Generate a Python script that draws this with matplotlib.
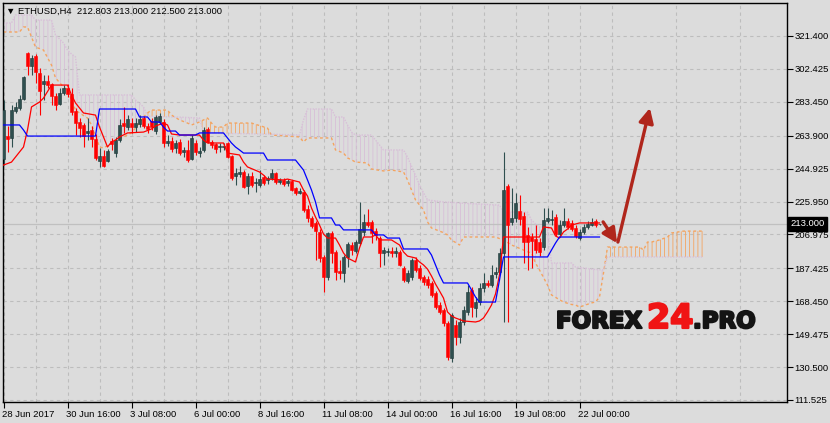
import numpy as np
import matplotlib.pyplot as plt
import matplotlib.patheffects as pe
from matplotlib.transforms import blended_transform_factory, ScaledTranslation

# ETHUSD H4 candles, 28 Jun - 22 Jul 2017
opens = [250.5, 263.7, 262.6, 278.1, 279.9, 285.1, 311.6, 304.1, 309.9, 300.0,
         293.7, 295.4, 293.7, 286.8, 282.2, 288.5, 291.4, 287.9, 278.1, 271.8,
         270.1, 265.5, 267.2, 262.0, 249.3, 252.2, 249.3, 260.9, 253.9, 261.4,
         271.2, 268.9, 271.2, 268.9, 270.6, 274.1, 269.5, 272.4, 266.6, 271.8,
         271.8, 259.7, 260.9, 256.8, 260.3, 254.5, 255.7, 250.5, 259.7, 253.9,
         255.7, 267.8, 260.3, 259.1, 257.4, 257.4, 259.7, 252.2, 240.7, 241.8,
         243.0, 234.9, 240.7, 236.6, 235.5, 240.1, 238.4, 239.5, 242.4, 237.2,
         238.4, 236.6, 237.8, 233.8, 230.9, 231.5, 221.6, 216.5, 213.6, 208.4,
         194.0, 182.5, 207.8, 196.9, 185.9, 184.7, 194.0, 200.9, 197.4, 202.0,
         208.4, 214.2, 214.2, 209.0, 204.9, 196.3, 196.9, 197.4, 196.3, 196.9,
         187.6, 180.2, 182.5, 192.3, 187.6, 182.5, 181.3, 179.0, 173.2, 166.3,
         163.4, 155.9, 135.7, 154.8, 147.9, 156.5, 162.3, 175.0, 164.6, 168.0,
         176.1, 179.0, 177.8, 184.2, 185.3, 196.3, 234.9, 214.2, 216.5, 220.5,
         217.6, 206.7, 205.5, 204.4, 202.6, 199.7, 214.7, 215.3, 217.0, 207.2,
         212.4, 214.7, 213.6, 210.7, 204.9, 208.4, 211.3, 212.4, 214.7, 212.8]
highs = [284.5, 269.5, 281.6, 283.3, 287.4, 298.3, 312.2, 310.4, 311.0, 302.9,
         298.9, 298.9, 294.3, 288.5, 291.4, 293.1, 293.7, 291.4, 279.9, 274.1,
         271.2, 274.1, 269.5, 264.9, 256.8, 255.7, 256.2, 262.6, 263.2, 273.5,
         280.5, 275.8, 274.1, 274.1, 275.8, 275.3, 271.2, 274.1, 275.8, 277.0,
         273.5, 264.3, 263.2, 261.4, 262.0, 257.4, 261.4, 264.3, 261.4, 257.4,
         268.9, 268.9, 261.4, 259.7, 259.7, 259.7, 260.3, 252.8, 245.3, 246.4,
         244.1, 242.4, 243.0, 239.5, 244.1, 241.2, 240.7, 244.7, 243.0, 239.5,
         239.5, 238.9, 238.4, 234.3, 233.8, 232.6, 223.9, 217.6, 214.7, 210.1,
         195.1, 208.4, 209.0, 198.0, 192.3, 195.1, 202.6, 202.6, 203.8, 225.7,
         218.8, 221.6, 215.3, 210.7, 206.1, 199.7, 199.2, 199.7, 199.7, 198.0,
         188.8, 186.5, 193.4, 194.0, 189.4, 183.6, 183.0, 180.2, 174.4, 168.0,
         164.6, 157.1, 161.7, 157.7, 158.8, 165.7, 177.8, 176.7, 170.9, 179.0,
         184.7, 180.7, 189.4, 188.2, 199.2, 254.5, 236.1, 233.8, 230.9, 229.7,
         219.9, 211.3, 207.8, 212.4, 204.9, 222.2, 222.2, 221.1, 218.8, 215.3,
         222.2, 216.5, 215.3, 212.4, 210.1, 213.0, 214.7, 216.5, 215.9, 213.0]
lows = [247.0, 254.5, 257.4, 277.0, 278.7, 284.5, 298.9, 298.9, 294.3, 275.8,
        284.5, 291.4, 281.6, 278.7, 281.6, 287.4, 286.2, 275.8, 264.3, 263.2,
        257.4, 261.4, 257.4, 249.9, 245.9, 245.9, 248.7, 255.7, 251.6, 260.3,
        265.5, 267.2, 265.5, 266.0, 268.9, 268.3, 265.5, 267.2, 264.9, 270.6,
        257.4, 258.0, 254.5, 253.9, 252.8, 251.6, 248.7, 249.9, 252.8, 251.6,
        254.5, 259.7, 256.8, 253.9, 254.5, 255.7, 251.1, 238.4, 235.5, 240.1,
        233.8, 230.3, 234.3, 231.5, 234.3, 235.5, 236.1, 238.4, 236.1, 236.1,
        234.9, 234.9, 232.0, 229.7, 230.3, 219.9, 214.2, 210.7, 192.3, 191.1,
        173.8, 180.7, 190.5, 180.7, 181.3, 179.6, 188.2, 195.1, 196.3, 200.9,
        206.1, 211.3, 202.0, 203.8, 188.2, 189.4, 194.5, 194.0, 194.0, 188.8,
        179.6, 179.0, 180.7, 185.3, 180.7, 177.8, 176.1, 170.9, 164.0, 161.1,
        154.2, 134.6, 133.4, 143.3, 144.4, 154.8, 160.5, 159.4, 159.4, 166.3,
        173.8, 176.7, 176.7, 181.9, 184.2, 156.5, 156.5, 212.4, 214.2, 212.4,
        190.5, 186.5, 187.6, 196.3, 194.5, 198.0, 213.6, 212.4, 206.1, 205.5,
        211.3, 210.1, 209.0, 204.9, 203.8, 207.2, 210.1, 211.9, 211.3, 212.5]
closes = [278.7, 262.0, 278.7, 280.5, 285.1, 297.8, 304.1, 308.7, 300.6, 289.7,
          295.4, 293.1, 286.8, 281.6, 288.5, 291.4, 287.9, 277.6, 271.2, 268.3,
          263.7, 266.6, 262.0, 251.1, 252.2, 246.4, 255.1, 259.1, 261.4, 270.1,
          269.5, 273.5, 268.9, 271.2, 273.5, 269.5, 267.8, 268.9, 274.7, 275.3,
          259.7, 260.9, 256.2, 259.7, 253.9, 255.7, 249.9, 262.6, 254.5, 255.1,
          267.2, 260.3, 258.5, 256.2, 258.0, 258.0, 251.6, 239.5, 242.4, 243.0,
          234.3, 240.7, 235.5, 237.2, 238.9, 236.6, 239.5, 242.4, 237.2, 238.4,
          236.1, 237.8, 232.6, 230.9, 232.0, 221.1, 216.5, 211.9, 209.0, 193.4,
          182.5, 207.8, 196.3, 185.3, 184.7, 194.0, 201.5, 198.0, 202.6, 210.1,
          214.2, 212.4, 207.8, 206.7, 196.3, 198.0, 197.4, 196.3, 197.4, 189.4,
          180.7, 184.7, 192.3, 186.5, 181.9, 179.6, 177.8, 172.1, 165.1, 162.3,
          155.9, 136.3, 160.5, 147.9, 156.5, 163.4, 173.8, 165.1, 168.0, 176.1,
          179.0, 177.8, 183.6, 185.3, 196.3, 232.6, 212.4, 216.5, 225.1, 215.9,
          202.6, 202.6, 203.2, 198.0, 196.9, 215.3, 216.5, 215.9, 207.2, 212.4,
          214.7, 211.3, 210.1, 206.1, 208.4, 211.3, 213.0, 214.2, 212.4, 213.0]

# Ichimoku lines, as (bar, price) breakpoints
tenkan_bars = [0, 2, 3, 5, 6, 7, 9, 10, 12, 16, 17, 18, 20, 23, 24, 25, 26, 27, 28, 29,
               31, 35, 37, 38, 40, 41, 42, 44, 49, 50, 51, 55, 56, 59, 60, 61, 64, 65, 66, 70,
               71, 74, 75, 76, 77, 78, 79, 80, 81, 83, 84, 85, 86, 88, 89, 90, 92, 93, 94, 97,
               99, 100, 101, 103, 104, 105, 106, 107, 108, 109, 110, 111, 112, 113, 115, 118, 119, 120, 121, 122,
               123, 124, 125, 134, 135, 137, 138, 139, 140, 141, 142, 143, 144, 149]
tenkan = [247.0, 248.7, 251.6, 257.4, 267.2, 280.5, 283.3, 285.6, 293.1, 293.1, 287.4, 282.8, 277.0, 275.8, 268.9, 263.2, 257.4, 260.3, 261.4, 263.2,
          265.5, 266.0, 267.8, 269.5, 271.2, 270.1, 264.9, 264.3, 264.3, 261.4, 259.7, 259.7, 253.9, 252.8, 248.7, 245.9, 243.0, 241.2, 238.9, 238.4,
          238.9, 237.2, 232.6, 229.1, 222.2, 217.0, 212.4, 207.2, 204.9, 204.9, 200.9, 196.3, 193.4, 191.1, 199.2, 205.5, 205.5, 206.7, 203.8, 203.8,
          200.9, 196.9, 194.5, 193.4, 191.1, 189.4, 187.0, 183.0, 178.4, 174.4, 170.3, 162.3, 160.0, 158.8, 157.1, 156.5, 157.1, 158.8, 162.3, 166.3,
          172.6, 183.6, 205.5, 205.5, 211.3, 210.7, 206.1, 204.9, 208.4, 210.1, 212.4, 213.0, 213.6, 213.6]

kijun_bars = [0, 4, 5, 6, 23, 24, 33, 34, 36, 37, 39, 40, 41, 43, 44, 48, 49, 55, 56, 57,
              58, 59, 60, 65, 66, 73, 74, 75, 76, 77, 78, 79, 82, 83, 84, 85, 92, 93, 95, 96,
              99, 100, 106, 107, 108, 109, 110, 116, 117, 118, 119, 123, 124, 125, 136, 137, 138, 139, 149]
kijun = [270.1, 270.1, 267.2, 263.7, 263.7, 279.3, 279.3, 274.7, 274.7, 271.8, 271.8, 268.9, 266.6, 266.6, 264.3, 264.3, 265.5, 265.5, 262.6, 259.7,
         257.4, 255.7, 253.9, 253.9, 249.9, 249.9, 247.0, 244.1, 238.4, 232.6, 225.7, 216.5, 216.5, 212.4, 212.4, 209.6, 209.6, 206.7, 206.7, 204.9,
         204.9, 198.6, 198.6, 195.1, 189.4, 183.6, 179.0, 179.0, 175.0, 170.9, 168.0, 168.0, 180.7, 194.0, 194.0, 198.0, 202.0, 205.5, 205.5]

cloud_bars = [0, 2, 3, 4, 5, 6, 7, 8, 10, 12, 13, 15, 16, 17, 18, 19, 21, 22, 23, 24,
              25, 27, 28, 30, 32, 33, 35, 36, 37, 41, 42, 44, 46, 47, 49, 50, 51, 52, 53, 55,
              56, 62, 66, 67, 74, 75, 76, 82, 83, 85, 86, 87, 88, 91, 92, 93, 95, 97, 100, 101,
              102, 103, 104, 105, 106, 107, 110, 111, 112, 114, 115, 123, 124, 125, 127, 131, 132, 133, 134, 136,
              137, 140, 142, 143, 144, 147, 148, 149, 150, 151, 159, 160, 161, 162, 164, 166, 167, 170, 175]
span_a = [323.7, 323.7, 323.7, 323.7, 326.6, 326.6, 320.8, 315.0, 313.3, 304.6, 297.2, 292.0, 290.3, 284.5, 278.7, 277.0, 274.1, 270.1, 264.3, 257.4,
          256.8, 259.7, 261.4, 263.2, 265.5, 268.3, 274.7, 277.0, 278.7, 278.7, 275.8, 273.0, 271.2, 270.1, 271.8, 273.0, 274.1, 271.2, 268.9, 268.9,
          271.2, 271.2, 268.3, 264.3, 263.2, 260.3, 262.6, 262.6, 255.7, 253.9, 251.1, 250.0, 248.7, 248.2, 244.7, 244.3, 243.6, 244.1, 243.0, 238.4,
          232.6, 226.9, 224.0, 221.1, 214.2, 210.7, 208.0, 206.7, 203.8, 200.9, 205.5, 205.5, 204.6, 203.8, 200.9, 197.0, 196.3, 190.5, 186.5, 177.8,
          172.1, 168.0, 166.6, 166.3, 165.1, 167.5, 168.0, 170.9, 184.7, 199.7, 199.7, 198.0, 202.6, 202.6, 203.8, 205.5, 207.8, 208.9, 208.9]
span_b = [328.9, 328.9, 333.5, 333.5, 333.5, 333.5, 333.5, 330.6, 330.6, 330.6, 322.0, 317.4, 313.3, 311.0, 309.3, 287.4, 287.4, 287.4, 287.4, 287.4,
          287.4, 287.4, 287.4, 287.4, 287.4, 284.5, 280.5, 275.3, 275.0, 274.8, 274.7, 274.6, 274.4, 274.3, 274.1, 265.5, 265.4, 265.4, 265.3, 265.2,
          265.2, 265.0, 264.8, 264.8, 264.3, 273.0, 279.3, 279.3, 274.7, 274.7, 270.1, 266.0, 264.3, 264.3, 264.3, 261.4, 255.7, 255.7, 255.7, 251.6,
          246.4, 241.0, 235.5, 231.0, 226.9, 226.6, 225.7, 225.6, 225.5, 225.1, 225.0, 224.0, 223.9, 219.9, 219.9, 219.9, 215.3, 213.0, 211.3, 211.3,
          190.5, 190.5, 190.5, 188.2, 188.0, 187.0, 186.8, 186.6, 186.5, 194.0, 194.0, 194.0, 194.0, 194.0, 194.0, 194.0, 194.0, 194.0, 194.0]

x_tick_bars = [0, 16, 32, 48, 64, 80, 96, 112, 128, 144]
x_tick_labels = ['28 Jun 2017', '30 Jun 16:00', '3 Jul 08:00', '6 Jul 00:00', '8 Jul 16:00',
                 '11 Jul 08:00', '14 Jul 00:00', '16 Jul 16:00', '19 Jul 08:00', '22 Jul 00:00']
y_ticks = [321.400, 302.425, 283.450, 263.900, 244.925, 225.950, 206.975,
           187.425, 168.450, 149.475, 130.500, 111.525]
last_price = 213.000

# forecast arrows (bar, price)
arrow_down = ((149.9, 214.2), (153.4, 202.0))
arrow_up = ((153.6, 202.6), (161.6, 279.9))

BG = '#DCDCDC'
GRID = '#BDBDBD'
BULL = '#2F4F4F'
BEAR = '#FF0000'
SANDY = '#F4A460'
THISTLE = '#D8BFD8'
ARROW = '#B0261C'

plt.rcParams['font.family'] = ['Liberation Sans', 'DejaVu Sans']
plt.rcParams['hatch.linewidth'] = 0.6

fig = plt.figure(figsize=(8.30, 4.23), dpi=100, facecolor=BG)
ax = fig.add_axes([3 / 830, 21 / 423, 784 / 830, 399 / 423])
ax.set_facecolor(BG)

o = np.array(opens)
h = np.array(highs)
l = np.array(lows)
c = np.array(closes)
bars = np.arange(len(o))
up = c >= o

# Ichimoku cloud
sa = np.array(span_a)
sb = np.array(span_b)
ax.fill_between(cloud_bars, sa, sb, where=sa >= sb, interpolate=True,
                facecolor='none', edgecolor=SANDY, hatch='||||', lw=0, zorder=1)
ax.fill_between(cloud_bars, sa, sb, where=sa < sb, interpolate=True,
                facecolor='none', edgecolor=THISTLE, hatch='||||', lw=0, zorder=1)
ax.plot(cloud_bars, sa, color=SANDY, lw=1, ls=(0, (2, 2)), zorder=2)
ax.plot(cloud_bars, sb, color=THISTLE, lw=1, ls=(0, (1, 1)), zorder=2)

# bid line
ax.axhline(last_price, color='#C0C0C0', lw=0.9, zorder=1.5)

# candles
ax.vlines(bars[up], l[up], h[up], color=BULL, lw=0.8, zorder=3)
ax.vlines(bars[~up], l[~up], h[~up], color=BEAR, lw=0.8, zorder=3)
body_lo = np.minimum(o, c)
body_h = np.maximum(np.abs(c - o), 0.3)
ax.bar(bars[up], body_h[up], 0.7, bottom=body_lo[up], color=BULL,
       edgecolor='#1C3434', lw=0.4, zorder=3.5)
ax.bar(bars[~up], body_h[~up], 0.7, bottom=body_lo[~up], color=BEAR,
       edgecolor=BEAR, lw=0.4, zorder=3.5)

# tenkan / kijun
ax.plot(tenkan_bars, tenkan, color='#FF0000', lw=0.9, zorder=4)
ax.plot(kijun_bars, kijun, color='#0000FF', lw=0.9, zorder=4)

# arrows
for start, end in (arrow_down, arrow_up):
    ax.annotate('', xy=end, xytext=start, zorder=6,
                arrowprops=dict(arrowstyle='-|>', color=ARROW, lw=2.4,
                                mutation_scale=22, shrinkA=0, shrinkB=0))

ax.set_xlim(-0.125, 195.875)
ax.set_ylim(110.37, 340.42)

# grid
ax.set_axisbelow(True)
ax.set_xticks(x_tick_bars)
ax.set_xticks(range(8, 196, 16), minor=True)
ax.set_xticklabels(x_tick_labels, fontsize=6.8, ha='left')
ax.set_yticks(y_ticks)
ax.set_yticklabels([f'{v:.3f}' for v in y_ticks], fontsize=6.8)
ax.yaxis.tick_right()
ax.tick_params(axis='both', which='major', direction='out', length=4, width=0.8,
               color='black', pad=1.5)
ax.tick_params(axis='x', which='minor', length=0)
ax.grid(True, which='both', color=GRID, lw=0.8, ls=(0, (3, 3)))
for s in ax.spines.values():
    s.set_color('black')
    s.set_linewidth(1)

shift = ScaledTranslation(-1.5 / 100, 0, fig.dpi_scale_trans)
for lab in ax.get_xticklabels():
    lab.set_transform(lab.get_transform() + shift)

# last price box
trans = blended_transform_factory(ax.transAxes, ax.transData)
ax.text(1.004, last_price, f'{last_price:.3f}', transform=trans, fontsize=6.8,
        color='white', va='center', ha='left', zorder=10,
        bbox=dict(boxstyle='square,pad=0.25', fc='black', ec='black'))

# header
fig.text(6 / 830, 1 - 11 / 423, '\u25bc ETHUSD,H4  212.803 213.000 212.500 213.000',
         fontsize=6.8, va='center', ha='left', color='black')

# watermark
heavy_k = [pe.withStroke(linewidth=1.6, foreground='#141414')]
heavy_r = [pe.withStroke(linewidth=1.6, foreground='#F01414')]
fig.text(556 / 830, 1 - 328 / 423, 'FOREX', fontsize=16.5, fontweight='bold',
         family='DejaVu Sans', color='#141414', va='baseline', path_effects=heavy_k)
fig.text(647 / 830, 1 - 328 / 423, '24', fontsize=24, fontweight='bold',
         family='DejaVu Sans', color='#F01414', va='baseline', path_effects=heavy_r)
fig.text(693 / 830, 1 - 328 / 423, '.PRO', fontsize=16.5, fontweight='bold',
         family='DejaVu Sans', color='#141414', va='baseline', path_effects=heavy_k)

fig.savefig('out.png', dpi=100, facecolor=BG)
